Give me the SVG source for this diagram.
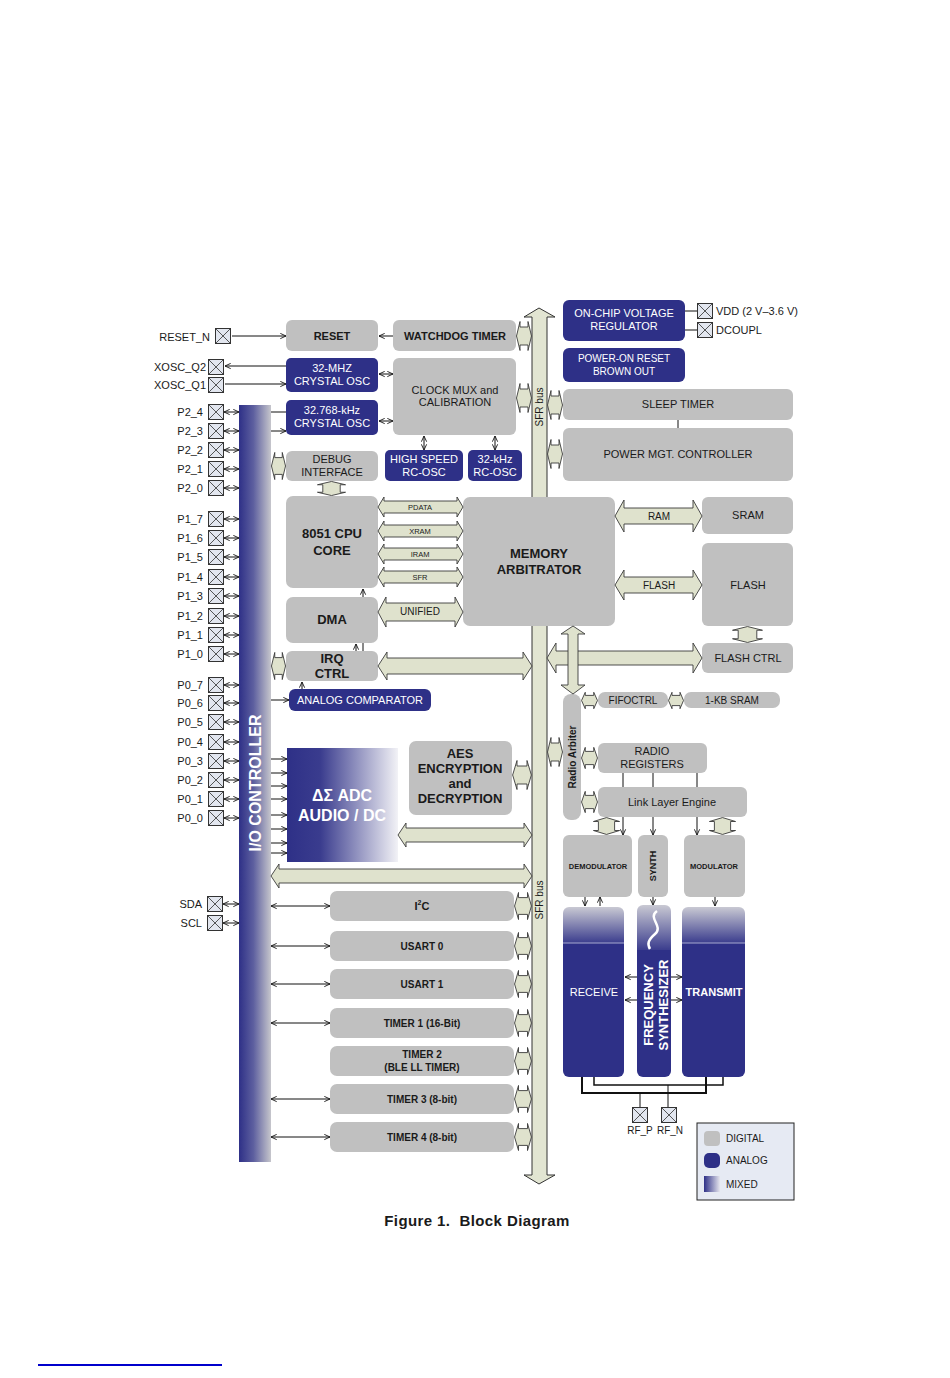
<svg xmlns="http://www.w3.org/2000/svg" xmlns:xlink="http://www.w3.org/1999/xlink" width="950" height="1378" viewBox="0 0 950 1378">
<style>
text{font-family:"Liberation Sans",Arial,sans-serif;fill:#1a1a1a}
.c{text-anchor:middle}
.b{font-weight:bold}
.w{fill:#ffffff}
.f11{font-size:11px}
.f10{font-size:10px}
.f13{font-size:13px}
.g{fill:#c0c0c0}
.n{fill:#2e3087}
.ln{stroke:#111;stroke-width:1;fill:none}
.ar{stroke:#111;stroke-width:1;fill:none;marker-end:url(#ah)}
.dar{stroke:#111;stroke-width:1;fill:none;marker-end:url(#ah);marker-start:url(#ah)}
.ha{fill:#dfe2cd;stroke:#3a3a3a;stroke-width:0.9}
</style>
<defs>
<marker id="ah" viewBox="0 0 8 8" refX="7.5" refY="4" markerWidth="7" markerHeight="7" markerUnits="userSpaceOnUse" orient="auto-start-reverse"><path d="M1 1 L7.5 4 L1 7" fill="none" stroke="#111" stroke-width="1"/></marker>
<symbol id="pin" viewBox="0 0 16 16"><rect x="0.5" y="0.5" width="15" height="15" fill="#e2e6ef" stroke="#333"/><path d="M1 1L15 15M15 1L1 15" stroke="#444" stroke-width="0.9"/></symbol>
<symbol id="hc" viewBox="0 0 16 30" preserveAspectRatio="none"><path d="M0.5 15 L4 0.5 L4 6 L12 6 L12 0.5 L15.5 15 L12 29.5 L12 24 L4 24 L4 29.5 Z" fill="#dfe2cd" stroke="#3a3a3a" stroke-width="0.9" vector-effect="non-scaling-stroke"/></symbol>
<symbol id="vc" viewBox="0 0 30 16" preserveAspectRatio="none"><path d="M15 0.5 L29.5 4 L24 4 L24 12 L29.5 12 L15 15.5 L0.5 12 L6 12 L6 4 L0.5 4 Z" fill="#dfe2cd" stroke="#3a3a3a" stroke-width="0.9" vector-effect="non-scaling-stroke"/></symbol>
<linearGradient id="ioG" x1="0" y1="0" x2="1" y2="0"><stop offset="0" stop-color="#2e3087"/><stop offset="0.45" stop-color="#5d5f9f"/><stop offset="1" stop-color="#c6c6cc"/></linearGradient>
<linearGradient id="adcG" x1="0" y1="0" x2="1" y2="0"><stop offset="0" stop-color="#2e3087"/><stop offset="0.3" stop-color="#3a3c8e"/><stop offset="1" stop-color="#f2f2f6"/></linearGradient>
<linearGradient id="mixG" x1="0" y1="0" x2="1" y2="0"><stop offset="0" stop-color="#2e3087"/><stop offset="1" stop-color="#e6e6ee"/></linearGradient>
<linearGradient id="rxG" x1="0" y1="0" x2="0" y2="1"><stop offset="0" stop-color="#c9c9d3"/><stop offset="0.21" stop-color="#3c3e8e"/><stop offset="0.21" stop-color="#2e3087"/><stop offset="1" stop-color="#2e3087"/></linearGradient>
<linearGradient id="fsG" x1="0" y1="0" x2="0" y2="1"><stop offset="0" stop-color="#c9c9d3"/><stop offset="0.26" stop-color="#3c3e8e"/><stop offset="0.26" stop-color="#2e3087"/><stop offset="1" stop-color="#2e3087"/></linearGradient>
</defs>
<rect width="950" height="1378" fill="#ffffff"/>

<!-- SFR bus -->
<g id="sfr-bus">
<path d="M539 308 L555 317 L547 317 L547 1175 L555 1175 L539 1184 L524 1175 L532 1175 L532 317 L524 317 Z" fill="#e2e5d2" stroke="#333" stroke-width="1"/>
<text class="c f10" transform="translate(543 407) rotate(-90)">SFR bus</text>
<text class="c f10" transform="translate(543 900) rotate(-90)">SFR bus</text>
</g>

<!-- I/O controller -->
<g id="io-controller">
<rect x="239" y="405" width="32" height="757" fill="url(#ioG)"/>
<text class="c b w" style="font-size:16px" transform="translate(261 783) rotate(-90)">I/O CONTROLLER</text>
</g>

<!-- pins -->
<g id="pins">
<g id="pin-reset_n"><use href="#pin" x="215" y="328" width="16" height="16"/><text class="f11" x="210" y="341" text-anchor="end">RESET_N</text></g>
<g id="pin-xosc_q2"><use href="#pin" x="208" y="359" width="16" height="16"/><text class="f11" x="206" y="371" text-anchor="end">XOSC_Q2</text></g>
<g id="pin-xosc_q1"><use href="#pin" x="208" y="377" width="16" height="16"/><text class="f11" x="206" y="389" text-anchor="end">XOSC_Q1</text></g>
<g id="pin-p2_4"><use href="#pin" x="208" y="404" width="16" height="16"/><text class="f11" x="203" y="416" text-anchor="end">P2_4</text></g>
<g id="pin-p2_3"><use href="#pin" x="208" y="423" width="16" height="16"/><text class="f11" x="203" y="435" text-anchor="end">P2_3</text></g>
<g id="pin-p2_2"><use href="#pin" x="208" y="442" width="16" height="16"/><text class="f11" x="203" y="454" text-anchor="end">P2_2</text></g>
<g id="pin-p2_1"><use href="#pin" x="208" y="461" width="16" height="16"/><text class="f11" x="203" y="473" text-anchor="end">P2_1</text></g>
<g id="pin-p2_0"><use href="#pin" x="208" y="480" width="16" height="16"/><text class="f11" x="203" y="492" text-anchor="end">P2_0</text></g>
<g id="pin-p1_7"><use href="#pin" x="208" y="511" width="16" height="16"/><text class="f11" x="203" y="523" text-anchor="end">P1_7</text></g>
<g id="pin-p1_6"><use href="#pin" x="208" y="530" width="16" height="16"/><text class="f11" x="203" y="542" text-anchor="end">P1_6</text></g>
<g id="pin-p1_5"><use href="#pin" x="208" y="549" width="16" height="16"/><text class="f11" x="203" y="561" text-anchor="end">P1_5</text></g>
<g id="pin-p1_4"><use href="#pin" x="208" y="569" width="16" height="16"/><text class="f11" x="203" y="581" text-anchor="end">P1_4</text></g>
<g id="pin-p1_3"><use href="#pin" x="208" y="588" width="16" height="16"/><text class="f11" x="203" y="600" text-anchor="end">P1_3</text></g>
<g id="pin-p1_2"><use href="#pin" x="208" y="608" width="16" height="16"/><text class="f11" x="203" y="620" text-anchor="end">P1_2</text></g>
<g id="pin-p1_1"><use href="#pin" x="208" y="627" width="16" height="16"/><text class="f11" x="203" y="639" text-anchor="end">P1_1</text></g>
<g id="pin-p1_0"><use href="#pin" x="208" y="646" width="16" height="16"/><text class="f11" x="203" y="658" text-anchor="end">P1_0</text></g>
<g id="pin-p0_7"><use href="#pin" x="208" y="677" width="16" height="16"/><text class="f11" x="203" y="689" text-anchor="end">P0_7</text></g>
<g id="pin-p0_6"><use href="#pin" x="208" y="695" width="16" height="16"/><text class="f11" x="203" y="707" text-anchor="end">P0_6</text></g>
<g id="pin-p0_5"><use href="#pin" x="208" y="714" width="16" height="16"/><text class="f11" x="203" y="726" text-anchor="end">P0_5</text></g>
<g id="pin-p0_4"><use href="#pin" x="208" y="734" width="16" height="16"/><text class="f11" x="203" y="746" text-anchor="end">P0_4</text></g>
<g id="pin-p0_3"><use href="#pin" x="208" y="753" width="16" height="16"/><text class="f11" x="203" y="765" text-anchor="end">P0_3</text></g>
<g id="pin-p0_2"><use href="#pin" x="208" y="772" width="16" height="16"/><text class="f11" x="203" y="784" text-anchor="end">P0_2</text></g>
<g id="pin-p0_1"><use href="#pin" x="208" y="791" width="16" height="16"/><text class="f11" x="203" y="803" text-anchor="end">P0_1</text></g>
<g id="pin-p0_0"><use href="#pin" x="208" y="810" width="16" height="16"/><text class="f11" x="203" y="822" text-anchor="end">P0_0</text></g>
<g id="pin-sda"><use href="#pin" x="207" y="896" width="16" height="16"/><text class="f11" x="202" y="908" text-anchor="end">SDA</text></g>
<g id="pin-scl"><use href="#pin" x="207" y="915" width="16" height="16"/><text class="f11" x="202" y="927" text-anchor="end">SCL</text></g>
<g id="pin-vdd"><use href="#pin" x="697" y="303" width="16" height="16"/><text class="f11" x="716" y="315">VDD (2 V–3.6 V)</text></g>
<g id="pin-dcoupl"><use href="#pin" x="697" y="322" width="16" height="16"/><text class="f11" x="716" y="334">DCOUPL</text></g>
<g id="pin-rf_p"><use href="#pin" x="632" y="1107" width="16" height="16"/><text class="f10 c" x="640" y="1134">RF_P</text></g>
<g id="pin-rf_n"><use href="#pin" x="661" y="1107" width="16" height="16"/><text class="f10 c" x="670" y="1134">RF_N</text></g>
</g>

<!-- nodes -->
<g id="reset"><rect class="g" x="286" y="320" width="92" height="31" rx="6"/><text class="c b f11" x="332" y="340">RESET</text></g>
<g id="watchdog"><rect class="g" x="393" y="320" width="123" height="31" rx="6"/><text class="c b f11" x="455" y="340">WATCHDOG TIMER</text></g>
<g id="xosc32m"><rect class="n" x="286" y="358" width="92" height="34" rx="5"/><text class="c w f11" x="332" y="372">32-MHZ</text><text class="c w f11" x="332" y="385">CRYSTAL OSC</text></g>
<g id="clockmux"><rect class="g" x="393" y="358" width="123" height="77" rx="6"/><text class="c f11" x="455" y="394">CLOCK MUX and</text><text class="c f11" x="455" y="406">CALIBRATION</text></g>
<g id="xosc32k"><rect class="n" x="286" y="400" width="92" height="35" rx="5"/><text class="c w f11" x="332" y="414">32.768-kHz</text><text class="c w f11" x="332" y="427">CRYSTAL OSC</text></g>
<g id="debug"><rect class="g" x="286" y="451" width="92" height="30" rx="6"/><text class="c f11" x="332" y="463">DEBUG</text><text class="c f11" x="332" y="476">INTERFACE</text></g>
<g id="hsrcosc"><rect class="n" x="385" y="450" width="78" height="31" rx="5"/><text class="c w f11" x="424" y="463">HIGH SPEED</text><text class="c w f11" x="424" y="476">RC-OSC</text></g>
<g id="rcosc32k"><rect class="n" x="468" y="450" width="54" height="31" rx="5"/><text class="c w f11" x="495" y="463">32-kHz</text><text class="c w f11" x="495" y="476">RC-OSC</text></g>
<g id="vreg"><rect class="n" x="563" y="300" width="122" height="41" rx="6"/><text class="c w f11" x="624" y="317">ON-CHIP VOLTAGE</text><text class="c w f11" x="624" y="330">REGULATOR</text></g>
<g id="por"><rect class="n" x="563" y="348" width="122" height="34" rx="6"/><text class="c w f10" x="624" y="362">POWER-ON RESET</text><text class="c w f10" x="624" y="375">BROWN OUT</text></g>
<g id="sleeptimer"><rect class="g" x="563" y="389" width="230" height="31" rx="6"/><text class="c f11" x="678" y="408">SLEEP TIMER</text></g>
<g id="pmc"><rect class="g" x="563" y="428" width="230" height="53" rx="6"/><text class="c f11" x="678" y="458">POWER MGT. CONTROLLER</text></g>
<g id="cpu"><rect class="g" x="286" y="496" width="92" height="92" rx="7"/><text class="c b f13" x="332" y="538">8051 CPU</text><text class="c b f13" x="332" y="555">CORE</text></g>
<g id="dma"><rect class="g" x="286" y="597" width="92" height="46" rx="7"/><text class="c b f13" x="332" y="624">DMA</text></g>
<g id="irq"><rect class="g" x="286" y="651" width="92" height="30" rx="6"/><text class="c b f13" x="332" y="663">IRQ</text><text class="c b f13" x="332" y="678">CTRL</text></g>
<g id="anacomp"><rect class="n" x="289" y="689" width="142" height="22" rx="6"/><text class="c w f11" x="360" y="704">ANALOG COMPARATOR</text></g>
<g id="memarb"><rect class="g" x="463" y="497" width="152" height="129" rx="7"/><text class="c b f13" x="539" y="558">MEMORY</text><text class="c b f13" x="539" y="574">ARBITRATOR</text></g>
<g id="sram"><rect class="g" x="702" y="497" width="91" height="37" rx="6"/><text class="c f11" x="748" y="519">SRAM</text></g>
<g id="flash"><rect class="g" x="702" y="543" width="91" height="83" rx="6"/><text class="c f11" x="748" y="589">FLASH</text></g>
<g id="flashctrl"><rect class="g" x="702" y="643" width="91" height="30" rx="6"/><text class="c f11" x="748" y="662">FLASH CTRL</text></g>
<g id="radioarb"><rect class="g" x="563" y="694" width="18" height="126" rx="8"/><text class="c b f10" transform="translate(576 757) rotate(-90)">Radio Arbiter</text></g>
<g id="fifoctrl"><rect class="g" x="598" y="692" width="70" height="16" rx="7"/><text class="c f10" x="633" y="704">FIFOCTRL</text></g>
<g id="kbsram"><rect class="g" x="684" y="692" width="96" height="16" rx="7"/><text class="c f10" x="732" y="704">1-KB SRAM</text></g>
<g id="radioregs"><rect class="g" x="598" y="743" width="109" height="30" rx="6"/><text class="c f11" x="652" y="755">RADIO</text><text class="c f11" x="652" y="768">REGISTERS</text></g>
<g id="lle"><rect class="g" x="598" y="787" width="149" height="30" rx="6"/><text class="c f11" x="672" y="806">Link Layer Engine</text></g>
<g id="demod"><rect class="g" x="563" y="835" width="69" height="62" rx="6"/><text class="c b" style="font-size:7.5px" x="598" y="869">DEMODULATOR</text></g>
<g id="synth"><rect class="g" x="638" y="835" width="30" height="62" rx="6"/><text class="c b" style="font-size:9px" transform="translate(656 866) rotate(-90)">SYNTH</text></g>
<g id="mod"><rect class="g" x="684" y="835" width="61" height="62" rx="6"/><text class="c b" style="font-size:7.5px" x="714" y="869">MODULATOR</text></g>
<g id="receive"><rect x="563" y="907" width="61" height="170" rx="6" fill="url(#rxG)"/><line x1="563" y1="943" x2="624" y2="943" stroke="#a8aad0" stroke-width="1"/><text class="c w f11" x="594" y="996">RECEIVE</text></g>
<g id="freqsynth"><rect x="637" y="905" width="34" height="172" rx="6" fill="url(#fsG)"/><path d="M657 911 C647 918 664 926 655 934 C648 940 647 944 650 949" fill="none" stroke="#ffffff" stroke-width="2.5"/><text class="c b w f13" transform="translate(653 1005) rotate(-90)">FREQUENCY</text><text class="c b w f13" transform="translate(668 1005) rotate(-90)">SYNTHESIZER</text></g>
<g id="transmit"><rect x="682" y="907" width="63" height="170" rx="6" fill="url(#rxG)"/><line x1="682" y1="943" x2="745" y2="943" stroke="#a8aad0" stroke-width="1"/><text class="c b w f11" x="714" y="996">TRANSMIT</text></g>
<g id="adc"><rect x="287" y="748" width="111" height="114" fill="url(#adcG)"/><text class="c b w" style="font-size:16px" x="342" y="801">ΔΣ ADC</text><text class="c b w" style="font-size:16px" x="342" y="821">AUDIO / DC</text></g>
<g id="aes"><rect class="g" x="409" y="741" width="103" height="74" rx="7"/><text class="c b f13" x="460" y="758">AES</text><text class="c b f13" x="460" y="773">ENCRYPTION</text><text class="c b f13" x="460" y="788">and</text><text class="c b f13" x="460" y="803">DECRYPTION</text></g>
<g id="i2c"><rect class="g" x="330" y="891" width="184" height="30" rx="7"/><text class="c b f11" x="422" y="910">I<tspan style="font-size:7px" dy="-5">2</tspan><tspan dy="5">C</tspan></text></g>
<g id="usart0"><rect class="g" x="330" y="931" width="184" height="30" rx="7"/><text class="c b f10" x="422" y="950">USART 0</text></g>
<g id="usart1"><rect class="g" x="330" y="969" width="184" height="30" rx="7"/><text class="c b f10" x="422" y="988">USART 1</text></g>
<g id="timer1"><rect class="g" x="330" y="1008" width="184" height="30" rx="7"/><text class="c b f10" x="422" y="1027">TIMER 1 (16-Bit)</text></g>
<g id="timer2"><rect class="g" x="330" y="1046" width="184" height="30" rx="7"/><text class="c b f10" x="422" y="1058">TIMER 2</text><text class="c b f10" x="422" y="1071">(BLE LL TIMER)</text></g>
<g id="timer3"><rect class="g" x="330" y="1084" width="184" height="30" rx="7"/><text class="c b f10" x="422" y="1103">TIMER 3 (8-bit)</text></g>
<g id="timer4"><rect class="g" x="330" y="1122" width="184" height="30" rx="7"/><text class="c b f10" x="422" y="1141">TIMER 4 (8-bit)</text></g>

<g id="legend">
<rect x="697" y="1123" width="97" height="77" fill="#e6eaf3" stroke="#222" stroke-width="1"/>
<rect class="g" x="704" y="1131" width="16" height="15" rx="4"/><text class="f10" x="726" y="1142">DIGITAL</text>
<rect class="n" x="704" y="1153" width="16" height="15" rx="5"/><text class="f10" x="726" y="1164">ANALOG</text>
<rect x="704" y="1176" width="16" height="16" fill="url(#mixG)"/><text class="f10" x="726" y="1188">MIXED</text>
</g>

<!-- connectors -->
<g id="connectors">
<path class="ha" d="M378 507 L384 497 L384 501 L457 501 L457 497 L463 507 L457 517 L457 513 L384 513 L384 517 Z"/>
<path class="ha" d="M378 531 L384 521 L384 525 L457 525 L457 521 L463 531 L457 541 L457 537 L384 537 L384 541 Z"/>
<path class="ha" d="M378 554 L384 544 L384 548 L457 548 L457 544 L463 554 L457 564 L457 560 L384 560 L384 564 Z"/>
<path class="ha" d="M378 577 L384 567 L384 571 L457 571 L457 567 L463 577 L457 587 L457 583 L384 583 L384 587 Z"/>
<text class="c" style="font-size:7.5px" x="420" y="510">PDATA</text>
<text class="c" style="font-size:7.5px" x="420" y="534">XRAM</text>
<text class="c" style="font-size:7.5px" x="420" y="557">IRAM</text>
<text class="c" style="font-size:7.5px" x="420" y="580">SFR</text>
<path class="ha" d="M378 612 L386 597 L386 603 L455 603 L455 597 L463 612 L455 627 L455 621 L386 621 L386 627 Z"/>
<text class="c f10" x="420" y="615">UNIFIED</text>
<path class="ha" d="M378 666 L387 652 L387 658 L523 658 L523 652 L532 666 L523 680 L523 674 L387 674 L387 680 Z"/>
<path class="ha" d="M615 516 L624 500 L624 508 L693 508 L693 500 L702 516 L693 532 L693 524 L624 524 L624 532 Z"/>
<text class="c f10" x="659" y="520">RAM</text>
<path class="ha" d="M615 585 L624 570 L624 577 L693 577 L693 570 L702 585 L693 600 L693 593 L624 593 L624 600 Z"/>
<text class="c f10" x="659" y="589">FLASH</text>
<path class="ha" d="M547 658 L556 643 L556 651 L693 651 L693 643 L702 658 L693 673 L693 665 L556 665 L556 673 Z"/>
<path class="ha" d="M573 626 L585 634 L578 634 L578 685 L585 685 L573 694 L561 685 L568 685 L568 634 L561 634 Z"/>
<path class="ha" d="M398 835 L406 823 L406 828 L524 828 L524 823 L532 835 L524 847 L524 842 L406 842 L406 847 Z"/>
<path class="ha" d="M271 876 L279 864 L279 869 L524 869 L524 864 L532 876 L524 888 L524 883 L279 883 L279 888 Z"/>

<use href="#hc" x="516" y="321" width="16" height="30"/>
<use href="#hc" x="516" y="383" width="16" height="30"/>
<use href="#hc" x="547" y="390" width="16" height="30"/>
<use href="#hc" x="547" y="439" width="16" height="30"/>
<use href="#hc" x="271" y="452" width="15" height="28"/>
<use href="#hc" x="271" y="652" width="15" height="28"/>
<use href="#hc" x="512" y="760" width="20" height="30"/>
<use href="#hc" x="547" y="737" width="16" height="30"/>
<use href="#hc" x="581" y="692" width="17" height="17"/>
<use href="#hc" x="668" y="692" width="16" height="17"/>
<use href="#hc" x="581" y="747" width="17" height="22"/>
<use href="#hc" x="581" y="791" width="17" height="22"/>
<use href="#hc" x="514" y="892" width="18" height="28"/>
<use href="#hc" x="514" y="932" width="18" height="28"/>
<use href="#hc" x="514" y="970" width="18" height="28"/>
<use href="#hc" x="514" y="1009" width="18" height="28"/>
<use href="#hc" x="514" y="1047" width="18" height="28"/>
<use href="#hc" x="514" y="1085" width="18" height="28"/>
<use href="#hc" x="514" y="1123" width="18" height="28"/>
<use href="#vc" x="317" y="481" width="29" height="15"/>
<use href="#vc" x="732" y="626" width="31" height="17"/>
<use href="#vc" x="593" y="817" width="27" height="18"/>
<use href="#vc" x="709" y="817" width="27" height="18"/>

<line class="ar" x1="232" y1="336" x2="286" y2="336"/>
<line class="ar" x1="393" y1="336" x2="379" y2="336"/>
<line class="ar" x1="286" y1="366" x2="225" y2="366"/>
<line class="ar" x1="225" y1="384" x2="286" y2="384"/>
<line class="dar" x1="379" y1="374" x2="393" y2="374"/>
<line class="dar" x1="379" y1="421" x2="393" y2="421"/>
<line class="ln" x1="271" y1="412" x2="286" y2="412"/>
<line class="ar" x1="271" y1="431" x2="286" y2="431"/>
<line class="dar" x1="424" y1="436" x2="424" y2="450"/>
<line class="dar" x1="495" y1="436" x2="495" y2="450"/>
<line class="ar" x1="363" y1="597" x2="363" y2="589"/>
<line class="ln" x1="363" y1="643" x2="363" y2="651"/>
<line class="ar" x1="356" y1="651" x2="356" y2="644"/>
<line class="ar" x1="302" y1="689" x2="302" y2="682"/>
<line class="ar" x1="271" y1="700" x2="289" y2="700"/>
<line class="ar" x1="271" y1="759" x2="287" y2="759"/>
<line class="ar" x1="271" y1="773" x2="287" y2="773"/>
<line class="ar" x1="271" y1="786" x2="287" y2="786"/>
<line class="ar" x1="271" y1="799" x2="287" y2="799"/>
<line class="ar" x1="271" y1="815" x2="287" y2="815"/>
<line class="ar" x1="271" y1="829" x2="287" y2="829"/>
<line class="ar" x1="271" y1="843" x2="287" y2="843"/>
<line class="ar" x1="271" y1="853" x2="287" y2="853"/>
<line class="ln" x1="678" y1="420" x2="678" y2="428"/>
<path class="ln" d="M685 311 H697 M685 330 H697"/>
<g class="dar">
<line x1="224" y1="412" x2="239" y2="412"/><line x1="224" y1="431" x2="239" y2="431"/><line x1="224" y1="450" x2="239" y2="450"/><line x1="224" y1="469" x2="239" y2="469"/><line x1="224" y1="488" x2="239" y2="488"/>
<line x1="224" y1="519" x2="239" y2="519"/><line x1="224" y1="538" x2="239" y2="538"/><line x1="224" y1="557" x2="239" y2="557"/><line x1="224" y1="577" x2="239" y2="577"/><line x1="224" y1="596" x2="239" y2="596"/><line x1="224" y1="616" x2="239" y2="616"/><line x1="224" y1="635" x2="239" y2="635"/><line x1="224" y1="654" x2="239" y2="654"/>
<line x1="224" y1="685" x2="239" y2="685"/><line x1="224" y1="703" x2="239" y2="703"/><line x1="224" y1="722" x2="239" y2="722"/><line x1="224" y1="742" x2="239" y2="742"/><line x1="224" y1="761" x2="239" y2="761"/><line x1="224" y1="780" x2="239" y2="780"/><line x1="224" y1="799" x2="239" y2="799"/><line x1="224" y1="818" x2="239" y2="818"/>
<line x1="223" y1="904" x2="239" y2="904"/><line x1="223" y1="923" x2="239" y2="923"/>
</g>
<g class="dar">
<line x1="271" y1="906" x2="330" y2="906"/><line x1="271" y1="946" x2="330" y2="946"/><line x1="271" y1="984" x2="330" y2="984"/><line x1="271" y1="1023" x2="330" y2="1023"/><line x1="271" y1="1099" x2="330" y2="1099"/><line x1="271" y1="1137" x2="330" y2="1137"/>
</g>
<path class="ln" d="M623 773 V787 M653 773 V787 M697 773 V787"/>
<line class="ar" x1="623" y1="817" x2="623" y2="835"/>
<line class="ar" x1="653" y1="817" x2="653" y2="835"/>
<line class="ar" x1="697" y1="817" x2="697" y2="835"/>
<line class="ar" x1="585" y1="897" x2="585" y2="906"/>
<line class="ar" x1="600" y1="906" x2="600" y2="897"/>
<line class="ar" x1="653" y1="897" x2="653" y2="905"/>
<line class="ar" x1="715" y1="897" x2="715" y2="906"/>
<line class="ar" x1="637" y1="977" x2="625" y2="977"/>
<line class="ar" x1="637" y1="1000" x2="625" y2="1000"/>
<line class="ar" x1="671" y1="977" x2="682" y2="977"/>
<line class="ar" x1="671" y1="1000" x2="682" y2="1000"/>
<path d="M582 1077 V1093 H706 V1077" fill="none" stroke="#111" stroke-width="2"/>
<path d="M594 1077 V1085 H723 V1077" fill="none" stroke="#111" stroke-width="1.5"/>
<path class="ln" d="M640 1093 V1107 M668 1085 V1107"/>
</g>

<text class="c b" style="font-size:15px;white-space:pre;letter-spacing:0.4px" x="477" y="1226">Figure 1.  Block Diagram</text>
<line x1="38" y1="1365" x2="222" y2="1365" stroke="#0000cc" stroke-width="2"/>
</svg>
